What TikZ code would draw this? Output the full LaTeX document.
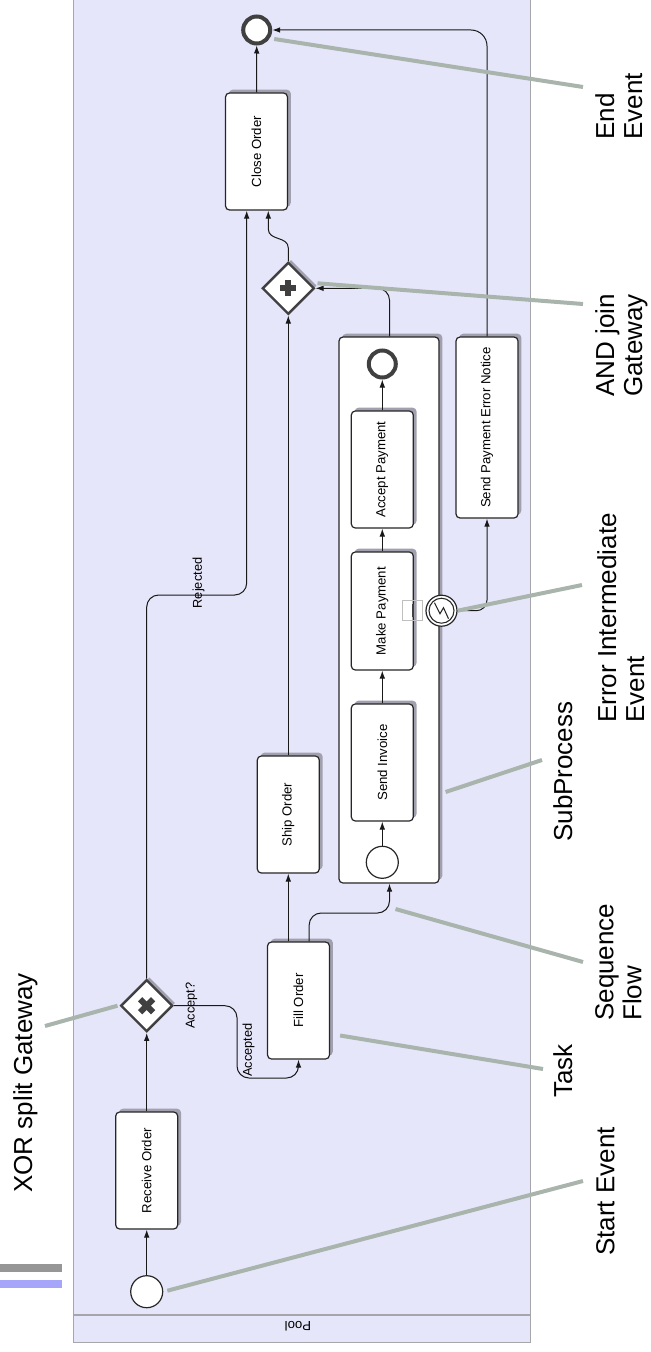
\documentclass[tikz,border=0pt]{standalone}
\usepackage{fontspec}
\usepackage{graphicx}
\setmainfont{Liberation Sans}
\usetikzlibrary{shapes.geometric,arrows.meta,shadows,calc}
\definecolor{poolfill}{RGB}{230,230,250}
\definecolor{poolline}{RGB}{165,165,170}
\definecolor{annotc}{RGB}{168,180,172}
\definecolor{shadec}{RGB}{160,160,175}
\definecolor{markc}{RGB}{64,64,64}
\definecolor{bargray}{RGB}{150,150,150}
\definecolor{barblue}{RGB}{165,165,250}
\def\pxu{0.75pt}
\begin{document}
\begin{tikzpicture}[x=0.75pt,y=-0.75pt,
  task/.style={draw=black!85, line width=0.9pt, fill=white, rounded corners=3pt, inner sep=0pt,
    minimum width=62*\pxu, minimum height=117*\pxu,
    drop shadow={shadow xshift=2.5pt, shadow yshift=2.5pt, fill=shadec, opacity=1},
    font=\fontsize{9.9}{12}\selectfont},
  subbox/.style={draw=black!85, line width=0.9pt, fill=white, rounded corners=3pt, inner sep=0pt,
    minimum width=100*\pxu, minimum height=546*\pxu,
    drop shadow={shadow xshift=2.5pt, shadow yshift=2.5pt, fill=shadec, opacity=1}},
  gw/.style={diamond, aspect=1, draw=markc, line width=1.8pt, fill=white, inner sep=0pt,
    minimum width=52*\pxu, minimum height=52*\pxu,
    drop shadow={shadow xshift=2pt, shadow yshift=2pt, fill=shadec, opacity=1}},
  startev/.style={circle, draw=black!85, line width=0.9pt, fill=white, inner sep=0pt, minimum size=32*\pxu},
  endev/.style={circle, draw=markc, line width=3pt, fill=white, inner sep=0pt, minimum size=27*\pxu},
  errev/.style={circle, draw=black!85, line width=0.9pt, fill=white, inner sep=0pt, minimum size=31*\pxu},
  flow/.style={draw=black!90, line width=0.75pt, -{Latex[length=6pt,width=4.2pt]}},
  annot/.style={draw=annotc, line width=3pt},
  lab/.style={rotate=90, anchor=north west, align=left, inner sep=0pt, font=\fontsize{19.5}{21}\selectfont},
  elab/.style={rotate=90, inner sep=0pt, font=\fontsize{9.6}{11}\selectfont},
  gmark/.style={draw=markc, line width=4.5pt}
]
\useasboundingbox (0,0) rectangle (650,1352);

% pool
\node[draw=poolline, fill=poolfill, line width=0.8pt, minimum width=457*\pxu, minimum height=1360*\pxu,
  anchor=south west, inner sep=0pt] (pool) at (73,1343) {};
\coordinate (pb1) at (73,1315);
\coordinate (pb2) at (530,1315);
\draw[poolline, line width=0.8pt] (pb1) -- (pb2);
\node[rotate=180, inner sep=0pt, font=\fontsize{9.9}{12}\selectfont] (poollab) at (298,1326) {Pool};

% left bars
\fill[bargray] (0,1264) rectangle (62,1272);
\fill[barblue] (0,1280) rectangle (62,1288);

% main flow nodes
\node[startev] (start) at (146.7,1291.7) {};
\node[task] (recv) at (146.7,1170.5) {\rotatebox{90}{Receive Order}};
\node[gw] (xor) at (146.7,1005.7) {};
\draw[gmark] ($(xor)+(-6.5,-6.5)$) -- ($(xor)+(6.5,6.5)$);
\draw[gmark] ($(xor)+(-6.5,6.5)$) -- ($(xor)+(6.5,-6.5)$);
\node[task] (fill) at (298.5,1000.5) {\rotatebox{90}{Fill Order}};
\node[task] (ship) at (288.3,814.5) {\rotatebox{90}{Ship Order}};

% subprocess
\node[subbox] (sub) at (389,610) {};
\node[startev] (sstart) at (382.3,862.3) {};
\node[task] (sinv) at (382.3,762.5) {\rotatebox{90}{Send Invoice}};
\node[task, minimum height=118*\pxu] (mpay) at (382.3,611) {\rotatebox{90}{Make Payment}};
\node[task] (apay) at (382.3,469.5) {\rotatebox{90}{Accept Payment}};
\node[endev] (send) at (382.3,364) {};
\node[draw=black!25, line width=0.6pt, minimum size=20*\pxu, inner sep=0pt] (expm) at (412.7,610.7) {};
\draw[markc, line width=1.5pt] ($(expm)+(0,-6.5)$) -- ($(expm)+(0,6.5)$);
\node[errev] (err) at (441.5,610.7) {};
\draw[black!85, line width=0.8pt] (err) circle[radius=12.5];
\draw[black!85, line width=0.8pt, line join=miter]
  ($(err)+(-7,-8)$) -- ($(err)+(-1.5,3)$) -- ($(err)+(2,-3)$) -- ($(err)+(7,8)$);

\node[task, minimum height=181*\pxu] (serr) at (487,427.5) {\rotatebox{90}{Send Payment Error Notice}};
\node[gw] (and) at (288.3,288.3) {};
\draw[gmark] ($(and)+(-8,0)$) -- ($(and)+(8,0)$);
\draw[gmark] ($(and)+(0,-8)$) -- ($(and)+(0,8)$);
\node[task] (close) at (256.5,151.5) {\rotatebox{90}{Close Order}};
\node[endev] (end) at (256.7,30) {};

% sequence flows
\draw[flow] (start.north) -- (recv.south);
\draw[flow] (recv.north) -- (xor.south);
\coordinate (rj) at (246.7,595);
\draw[flow, rounded corners=9pt] (xor.north) |- (rj) -- (rj |- close.south);
\node[elab] (rejlab) at (198.5,583) {Rejected};
\coordinate (ac) at (237,1078);
\draw[flow, rounded corners=9pt] (xor.east) -| (ac) -| (fill.south);
\node[elab] (asklab) at (191.5,1005.5) {Accept?};
\node[elab] (acclab) at (248.5,1050) {Accepted};
\draw[flow] (fill.north -| ship) -- (ship.south);
\coordinate (fs) at (389.5,913);
\draw[flow, rounded corners=9pt] ([xshift=8pt]fill.north) |- (fs) -- (fs |- sub.south);
\draw[flow] (sstart.north) -- (sinv.south);
\draw[flow] (sinv.north) -- (mpay.south);
\draw[flow] (mpay.north) -- (apay.south);
\draw[flow] (apay.north) -- (send.south);
\draw[flow] (ship.north) -- (and.south);
\draw[flow, rounded corners=9pt] ([xshift=0.4pt]sub.north) |- (and.east);
\coordinate (aj1) at (288.3,248);
\coordinate (aj2) at (268.3,229);
\draw[flow] (and.north) -- (aj1) .. controls (288.3,236) and (268.3,241) .. (aj2) -- (aj2 |- close.south);
\draw[flow] (close.north) -- (end.south);
\draw[flow, rounded corners=8pt] (err.east) -| (serr.south);
\draw[flow, rounded corners=12pt] (serr.north) |- (end.east);

% annotation labels
\node[lab] (lXor) at (13,1193) {XOR split Gateway};
\node[lab] (lStart) at (596,1256) {Start Event};
\node[lab] (lTask) at (553,1098) {Task};
\node[lab] (lSeq) at (595,1021) {Sequence\\Flow};
\node[lab] (lSub) at (553,842) {SubProcess};
\node[lab] (lErr) at (597,723) {Error Intermediate\\Event};
\node[lab] (lAnd) at (595,397) {AND join\\Gateway};
\node[lab] (lEnd) at (595,140) {End\\Event};

% annotation connectors
\coordinate (cXor) at (45,1026);
\coordinate (cStart) at (583,1181);
\coordinate (cTask) at (543,1069);
\coordinate (cSeq) at (583,962);
\coordinate (cSub) at (542,760);
\coordinate (cErr) at (582,585);
\coordinate (cAnd) at (583,304);
\coordinate (cEnd) at (583,87);
\draw[annot] (cXor) -- ($(xor.west)+(-2,0)$);
\draw[annot] (cStart) -- ($(start.east)+(4,-1)$);
\draw[annot] (cTask) -- ($(fill.east)+(10,35)$);
\draw[annot] (cSeq) -- ($(fs)+(6,-4)$);
\draw[annot] (cSub) -- ($(sub.east)+(6,182)$);
\draw[annot] (cErr) -- ($(err.east)+(0,0)$);
\draw[annot] (cAnd) -- ($(and.east)+(2,-5)$);
\draw[annot] (cEnd) -- ($(end.east)+(2,9)$);
\end{tikzpicture}
\end{document}
